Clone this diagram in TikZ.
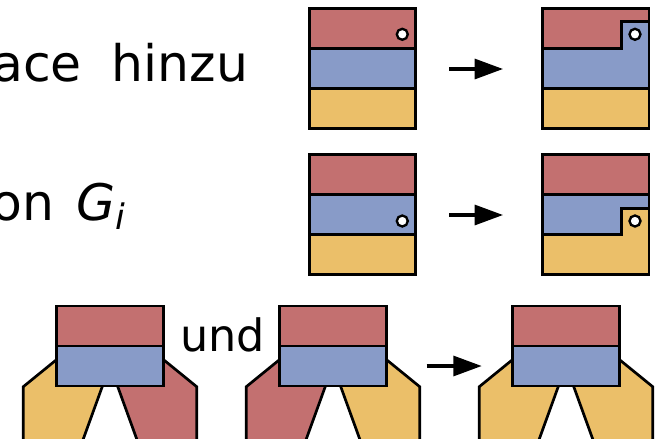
\documentclass[tikz,border=0pt]{standalone}
\usepackage{fontspec}
\setmainfont{DejaVu Sans}
\usetikzlibrary{arrows.meta}
\definecolor{redband}{HTML}{C37070}
\definecolor{blueband}{HTML}{889BC8}
\definecolor{yellowband}{HTML}{EBBF69}

\begin{document}
\begin{tikzpicture}[x=0.03cm, y=-0.03cm, line width=2.3pt, line join=miter,
  band/.style={draw, minimum width=3.2cm, minimum height=1.2cm, inner sep=0, outer sep=0},
  hole/.style={draw, circle, fill=white, line width=2pt, minimum size=0.33cm, inner sep=0},
  lbl/.style={font=\fontsize{43}{50}\selectfont, inner sep=0},
  flow/.style={line width=2.6pt, -{Triangle[length=0.85cm, width=0.6cm]}}]
  \useasboundingbox (0,0) rectangle (658,439);
  \clip (0,0) rectangle (658,439);

  % labels
  \node[lbl, anchor=base east] (addlbl) at (249.5,81.7) {ace\hspace{0.42cm} hinzu};
  \node[lbl, anchor=base east] (gilbl) at (127,220) {on\hspace{0.2cm} {\itshape G}\raisebox{-8.5pt}{\fontsize{30}{30}\selectfont\itshape i}};
  \node[lbl, font=\fontsize{38}{46}\selectfont, anchor=base west] (undlbl) at (179,351.7) {und};

  % row 1
  \node[band, fill=redband] (redA) at (362.5,28.3) {};
  \node[band, fill=blueband] (bluA) at (362.5,68.3) {};
  \node[band, fill=yellowband] (yelA) at (362.5,108.3) {};
  \node[hole] (holeA) at (402.3,34.3) {};
  \node[band, fill=redband] (redB) at (595.8,28.3) {};
  \node[band, fill=yellowband] (yelB) at (595.8,108.3) {};
  \draw[fill=blueband] (542.5,48.3) -- (621.7,48.3) -- (621.7,21.7) -- (649.1,21.7) -- (649.1,88.3) -- (542.5,88.3) -- cycle;
  \node[hole] (holeB) at (635,34.3) {};
  \coordinate (arrA) at (449,69);
  \coordinate (arrAend) at (503,69);
  \draw[flow] (arrA) -- (arrAend);

  % row 2
  \node[band, fill=redband] (redC) at (362.5,174.3) {};
  \node[band, fill=blueband] (bluC) at (362.5,214.3) {};
  \node[band, fill=yellowband] (yelC) at (362.5,254.3) {};
  \node[hole] (holeC) at (402.3,221) {};
  \node[band, fill=redband] (redD) at (595.8,174.3) {};
  \node[band, fill=blueband] (bluD) at (595.8,214.3) {};
  \draw[fill=yellowband] (542.5,234.3) -- (621.7,234.3) -- (621.7,208.3) -- (649.1,208.3) -- (649.1,274.3) -- (542.5,274.3) -- cycle;
  \node[hole] (holeD) at (635,221) {};
  \coordinate (arrB) at (449,215);
  \coordinate (arrBend) at (503,215);
  \draw[flow] (arrB) -- (arrBend);

  % row 3
  \begin{scope}[shift={(110,0)}]
    \draw[fill=yellowband] (-86.7,450) -- (-86.7,386.7) -- (-40,348.7) -- (1.9,360) -- (-30.7,450) -- cycle;
    \draw[fill=redband] (86.7,450) -- (86.7,386.7) -- (40,348.7) -- (-1.9,360) -- (30.7,450) -- cycle;
    \node[band, fill=redband] (redE) at (0,326) {};
    \node[band, fill=blueband] (bluE) at (0,366) {};
  \end{scope}
  \begin{scope}[shift={(333,0)}]
    \draw[fill=redband] (-86.7,450) -- (-86.7,386.7) -- (-40,348.7) -- (1.9,360) -- (-30.7,450) -- cycle;
    \draw[fill=yellowband] (86.7,450) -- (86.7,386.7) -- (40,348.7) -- (-1.9,360) -- (30.7,450) -- cycle;
    \node[band, fill=redband] (redF) at (0,326) {};
    \node[band, fill=blueband] (bluF) at (0,366) {};
  \end{scope}
  \begin{scope}[shift={(566,0)}]
    \draw[fill=yellowband] (-86.7,450) -- (-86.7,386.7) -- (-40,348.7) -- (1.9,360) -- (-30.7,450) -- cycle;
    \draw[fill=yellowband] (86.7,450) -- (86.7,386.7) -- (40,348.7) -- (-1.9,360) -- (30.7,450) -- cycle;
    \node[band, fill=redband] (redG) at (0,326) {};
    \node[band, fill=blueband] (bluG) at (0,366) {};
  \end{scope}
  \coordinate (arrC) at (426.7,366);
  \coordinate (arrCend) at (481.7,366);
  \draw[flow] (arrC) -- (arrCend);
\end{tikzpicture}
\end{document}
